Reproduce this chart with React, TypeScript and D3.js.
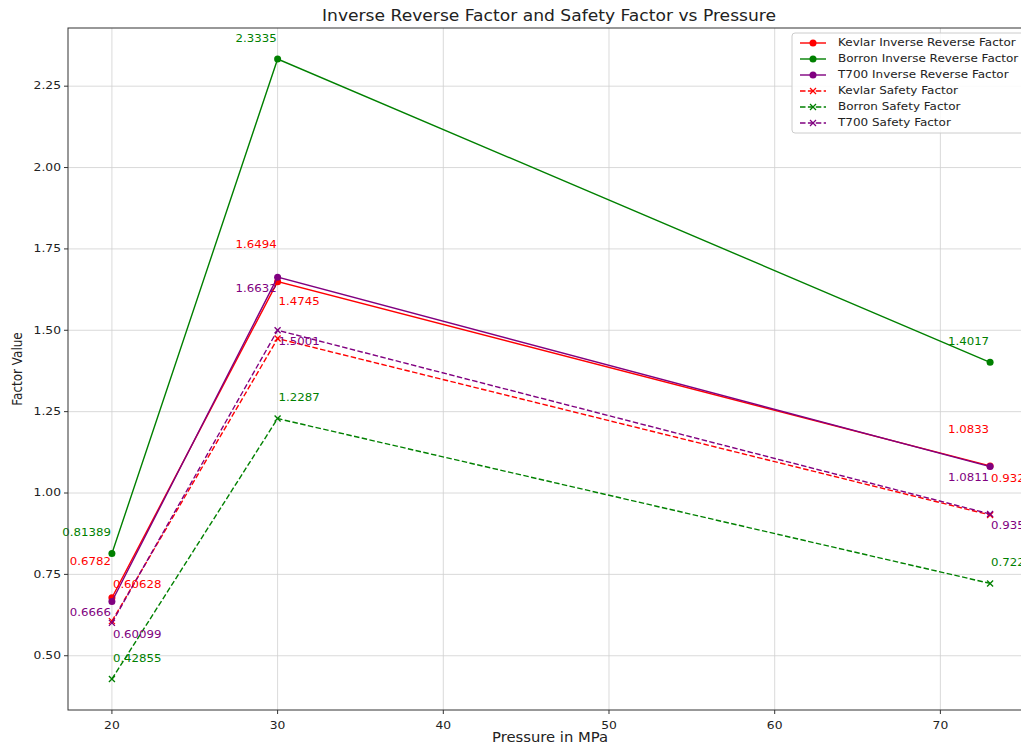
import React from "react";
import * as d3 from "d3";

const pressures = [20, 30, 73];
const kevlarIRF = [0.6782, 1.6494, 1.0833];
const boronIRF = [0.81389, 2.3335, 1.4017];
const t700IRF = [0.6666, 1.6632, 1.0811];
const kevlarSF = [0.60628, 1.4745, 0.9325];
const boronSF = [0.42855, 1.2287, 0.7222];
const t700SF = [0.60099, 1.5001, 0.9355];
const xTicks = [20, 30, 40, 50, 60, 70];
const yTicks = [0.5, 0.75, 1.0, 1.25, 1.5, 1.75, 2.0, 2.25];

const W = 1021, H = 747;
const M = { left: 68, top: 28, right: 1034, bottom: 710 };
const FONT = "DejaVu Sans, sans-serif";
const SX = 1.12;

type S = { name: string; values: number[]; color: string; dashed: boolean; dy: number };
const series: S[] = [
  { name: "Kevlar Inverse Reverse Factor", values: kevlarIRF, color: "red", dashed: false, dy: -36 },
  { name: "Borron Inverse Reverse Factor", values: boronIRF, color: "green", dashed: false, dy: -20 },
  { name: "T700 Inverse Reverse Factor", values: t700IRF, color: "purple", dashed: false, dy: 12 },
  { name: "Kevlar Safety Factor", values: kevlarSF, color: "red", dashed: true, dy: -36 },
  { name: "Borron Safety Factor", values: boronSF, color: "green", dashed: true, dy: -20 },
  { name: "T700 Safety Factor", values: t700SF, color: "purple", dashed: true, dy: 12 },
];

const all = series.flatMap((s) => s.values);
const yMinD = d3.min(all)!, yMaxD = d3.max(all)!;
const yPad = (yMaxD - yMinD) * 0.05;
const xPad = (73 - 20) * 0.05;

const x = d3.scaleLinear().domain([20 - xPad, 73 + xPad]).range([M.left, M.right]);
const y = d3.scaleLinear().domain([yMinD - yPad, yMaxD + yPad]).range([M.bottom, M.top]);

function Txt({ x, y, size, fill = "#222", anchor = "start", rotate = 0, children }: any) {
  const tr = rotate ? `translate(${x},${y}) rotate(${rotate}) scale(${SX},1)` : `translate(${x},${y}) scale(${SX},1)`;
  return (
    <text transform={tr} textAnchor={anchor} dominantBaseline="middle" fontSize={size} fill={fill}>
      {children}
    </text>
  );
}

function Marker({ cx, cy, color, dashed }: { cx: number; cy: number; color: string; dashed: boolean }) {
  if (!dashed) return <circle cx={cx} cy={cy} r={3.5} fill={color} />;
  const r = 3;
  return (
    <g stroke={color} strokeWidth={1.3}>
      <line x1={cx - r} y1={cy - r} x2={cx + r} y2={cy + r} />
      <line x1={cx - r} y1={cy + r} x2={cx + r} y2={cy - r} />
    </g>
  );
}

export default function App() {
  const line = d3
    .line<number>()
    .x((_, i) => x(pressures[i]))
    .y((d) => y(d));
  return (
    <svg width={W} height={H} style={{ position: "absolute", left: 0, top: 0, background: "white" }} fontFamily={FONT}>
      <rect x={0} y={0} width={W} height={H} fill="white" />
      {xTicks.map((t) => (
        <line key={"gx" + t} x1={x(t)} x2={x(t)} y1={M.top} y2={M.bottom} stroke="#d0d0d0" strokeWidth={0.8} />
      ))}
      {yTicks.map((t) => (
        <line key={"gy" + t} x1={M.left} x2={M.right} y1={y(t)} y2={y(t)} stroke="#d0d0d0" strokeWidth={0.8} />
      ))}
      {series.map((s) => (
        <g key={s.name}>
          <path d={line(s.values)!} fill="none" stroke={s.color} strokeWidth={1.4} strokeDasharray={s.dashed ? "5.5,2.4" : undefined} />
          {s.values.map((v, i) => (
            <Marker key={i} cx={x(pressures[i])} cy={y(v)} color={s.color} dashed={s.dashed} />
          ))}
        </g>
      ))}
      {series.map((s) =>
        s.values.map((v, i) => (
          <Txt
            key={s.name + "a" + i}
            x={x(pressures[i]) + (s.dashed ? 1 : -1)}
            y={y(v) + s.dy}
            anchor={s.dashed ? "start" : "end"}
            size={10.5}
            fill={s.color}
          >
            {String(v)}
          </Txt>
        ))
      )}
      <rect x={M.left} y={M.top} width={M.right - M.left} height={M.bottom - M.top} fill="none" stroke="#333" strokeWidth={1} />
      {xTicks.map((t) => (
        <g key={"tx" + t}>
          <line x1={x(t)} x2={x(t)} y1={M.bottom} y2={M.bottom + 4} stroke="#333" />
          <Txt x={x(t)} y={M.bottom + 16} anchor="middle" size={11}>
            {t}
          </Txt>
        </g>
      ))}
      {yTicks.map((t) => (
        <g key={"ty" + t}>
          <line x1={M.left - 4} x2={M.left} y1={y(t)} y2={y(t)} stroke="#333" />
          <Txt x={M.left - 7} y={y(t)} anchor="end" size={11}>
            {t.toFixed(2)}
          </Txt>
        </g>
      ))}
      <Txt x={549} y={17} anchor="middle" size={15.3}>
        Inverse Reverse Factor and Safety Factor vs Pressure
      </Txt>
      <Txt x={550} y={738} anchor="middle" size={13.2}>
        Pressure in MPa
      </Txt>
      <text transform={`translate(18,${(M.top + M.bottom) / 2}) rotate(-90) scale(1,${SX})`} textAnchor="middle" dominantBaseline="middle" fontSize={12} fill="#222">
        Factor Value
      </text>
      <g>
        <rect x={792} y={33} width={240} height={100} rx={3} fill="white" fillOpacity={0.85} stroke="#ccc" />
        {series.map((s, i) => {
          const ly = 43 + i * 16;
          return (
            <g key={"lg" + s.name}>
              <line x1={800} x2={826} y1={ly} y2={ly} stroke={s.color} strokeWidth={1.4} strokeDasharray={s.dashed ? "5.5,2.4" : undefined} />
              <Marker cx={813} cy={ly} color={s.color} dashed={s.dashed} />
              <Txt x={838} y={ly} size={10.7}>
                {s.name}
              </Txt>
            </g>
          );
        })}
      </g>
    </svg>
  );
}
